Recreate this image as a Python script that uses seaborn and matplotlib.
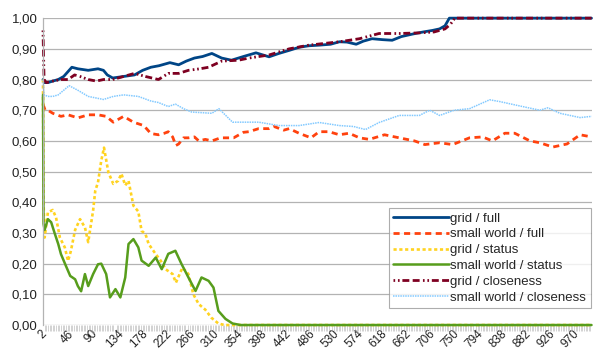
import numpy as np
import pandas as pd
import matplotlib
matplotlib.use("Agg")
import matplotlib.pyplot as plt
import seaborn as sns

# valores (x = iteracion, y = valor)
grid_full_x = [2, 5, 11, 20, 30, 40, 55, 66, 85, 103, 113, 120, 130, 150, 170, 185, 200, 215, 235,
               251, 265, 280, 295, 312, 330, 348, 370, 393, 417, 435, 454, 472, 490, 509, 530, 546,
               560, 577, 590, 606, 625, 643, 660, 680, 700, 717, 730, 740, 748, 1009]
grid_full_y = [0.80, 0.79, 0.79, 0.795, 0.80, 0.81, 0.84, 0.835, 0.83, 0.835, 0.83, 0.815, 0.805,
               0.81, 0.815, 0.83, 0.84, 0.845, 0.855, 0.848, 0.86, 0.87, 0.875, 0.885, 0.87, 0.863,
               0.875, 0.887, 0.874, 0.885, 0.895, 0.905, 0.91, 0.912, 0.915, 0.923, 0.922, 0.915,
               0.925, 0.933, 0.93, 0.928, 0.94, 0.948, 0.955, 0.96, 0.965, 0.975, 1.0, 1.0]

sw_full_x = [2, 6, 11, 20, 35, 48, 66, 85, 103, 118, 131, 150, 168, 187, 200, 214, 225, 232, 240,
             246, 251, 260, 269, 280, 288, 300, 312, 328, 340, 352, 370, 380, 398, 417, 426, 444,
             454, 472, 494, 509, 527, 546, 564, 583, 601, 629, 656, 684, 703, 730, 754, 785, 809,
             827, 850, 868, 896, 914, 938, 964, 988, 1009]
sw_full_y = [0.72, 0.70, 0.70, 0.69, 0.68, 0.685, 0.675, 0.685, 0.685, 0.68, 0.661, 0.68, 0.661,
             0.65, 0.624, 0.62, 0.625, 0.63, 0.613, 0.585, 0.59, 0.61, 0.61, 0.613, 0.60, 0.605,
             0.60, 0.61, 0.61, 0.61, 0.628, 0.63, 0.64, 0.64, 0.647, 0.635, 0.64, 0.625, 0.61,
             0.63, 0.63, 0.62, 0.625, 0.61, 0.605, 0.62, 0.61, 0.60, 0.588, 0.594, 0.588, 0.61,
             0.613, 0.60, 0.625, 0.625, 0.60, 0.594, 0.58, 0.59, 0.62, 0.613]

grid_status_x = [2, 3, 5, 11, 20, 26, 33, 42, 48, 53, 61, 70, 79, 85, 94, 98, 103, 109, 114, 122,
                 131, 140, 146, 153, 159, 168, 177, 183, 190, 196, 209, 218, 227, 240, 246, 258,
                 269, 278, 288, 300, 311, 324, 335, 1009]
grid_status_y = [0.80, 0.40, 0.285, 0.367, 0.375, 0.35, 0.285, 0.253, 0.209, 0.24, 0.31, 0.345,
                 0.318, 0.27, 0.373, 0.438, 0.465, 0.536, 0.578, 0.498, 0.46, 0.47, 0.493, 0.455,
                 0.47, 0.389, 0.37, 0.307, 0.297, 0.264, 0.231, 0.21, 0.182, 0.166, 0.138, 0.187,
                 0.166, 0.10, 0.068, 0.05, 0.024, 0.005, 0.0, 0.0]

sw_status_x = [2, 3, 5, 11, 17, 24, 30, 35, 44, 52, 61, 66, 72, 79, 85, 94, 103, 109, 118, 125,
               135, 144, 153, 159, 168, 177, 183, 196, 209, 220, 232, 245, 256, 269, 282, 293, 306,
               315, 324, 337, 350, 365, 1009]
sw_status_y = [0.75, 0.33, 0.31, 0.345, 0.335, 0.296, 0.264, 0.231, 0.193, 0.16, 0.149, 0.127,
               0.11, 0.166, 0.127, 0.166, 0.198, 0.20, 0.166, 0.09, 0.117, 0.09, 0.155, 0.264,
               0.28, 0.253, 0.21, 0.193, 0.22, 0.182, 0.232, 0.242, 0.20, 0.155, 0.111, 0.155,
               0.144, 0.122, 0.046, 0.02, 0.005, 0.0, 0.0]

grid_clos_x = [2, 4, 8, 20, 35, 48, 60, 70, 85, 100, 113, 130, 150, 170, 190, 214, 232, 251, 269,
               290, 306, 330, 361, 380, 417, 454, 490, 546, 583, 619, 656, 693, 720, 740, 750, 758,
               1009]
grid_clos_y = [0.96, 0.80, 0.79, 0.795, 0.80, 0.80, 0.815, 0.81, 0.80, 0.795, 0.80, 0.80, 0.81,
               0.82, 0.81, 0.80, 0.82, 0.82, 0.83, 0.835, 0.84, 0.86, 0.863, 0.87, 0.88, 0.90,
               0.912, 0.923, 0.933, 0.95, 0.95, 0.952, 0.955, 0.965, 0.98, 1.0, 1.0]

sw_clos_x = [2, 4, 11, 20, 30, 40, 50, 66, 85, 113, 131, 150, 177, 200, 214, 232, 245, 260, 275,
             312, 325, 350, 398, 435, 472, 509, 546, 572, 594, 619, 656, 693, 712, 730, 757, 785,
             822, 841, 877, 914, 929, 951, 988, 1009]
sw_clos_y = [0.80, 0.75, 0.745, 0.745, 0.75, 0.765, 0.78, 0.765, 0.745, 0.735, 0.745, 0.75, 0.745,
             0.73, 0.725, 0.712, 0.72, 0.705, 0.694, 0.69, 0.705, 0.661, 0.661, 0.65, 0.65, 0.66,
             0.65, 0.647, 0.637, 0.66, 0.683, 0.683, 0.70, 0.683, 0.70, 0.705, 0.734, 0.728,
             0.714, 0.70, 0.708, 0.69, 0.676, 0.68]

x_ticks = [2, 46, 90, 134, 178, 222, 266, 310, 354, 398, 442, 486, 530, 574, 618, 662, 706, 750,
           794, 838, 882, 926, 970]
y_ticks = [0.0, 0.1, 0.2, 0.3, 0.4, 0.5, 0.6, 0.7, 0.8, 0.9, 1.0]

sns.set_style("white")
plt.rcParams["font.family"] = ["Liberation Sans", "DejaVu Sans"]

fig = plt.figure(figsize=(5.93, 3.56), dpi=100)
ax = fig.add_axes([0.0725, 0.087, 0.925, 0.862])

ax.yaxis.grid(True, color="#b3b3b3", linewidth=0.9)
ax.set_axisbelow(True)

series = [
    ("grid / full", grid_full_x, grid_full_y, "#004586", 2.0, "-"),
    ("small world / full", sw_full_x, sw_full_y, "#ff420e", 2.0, (0, (2.2, 1.6))),
    ("grid / status", grid_status_x, grid_status_y, "#ffd320", 1.9, (0, (1.2, 1.0))),
    ("small world / status", sw_status_x, sw_status_y, "#579d1c", 1.8, "-"),
    ("grid / closeness", grid_clos_x, grid_clos_y, "#7e0021", 2.0, (0, (0.6, 1.0, 0.6, 1.0, 2.5, 1.2, 2.5, 1.2))),
    ("small world / closeness", sw_clos_x, sw_clos_y, "#83caff", 1.1, (0, (1.0, 0.6))),
]

for nombre, xs, ys, color, lw, estilo in series:
    df = pd.DataFrame({"x": xs, "y": ys})
    sns.lineplot(data=df, x="x", y="y", ax=ax, color=color, linewidth=lw,
                 linestyle=estilo, label=nombre, estimator=None, sort=False,
                 clip_on=False)

ax.set_xlim(2, 1009)
ax.set_ylim(0, 1.0)
ax.set_xlabel("")
ax.set_ylabel("")

ax.set_xticks(x_ticks)
ax.set_xticklabels([str(t) for t in x_ticks], rotation=45, fontsize=8.5,
                   color="#222222")
ax.set_xticks(np.arange(2, 1010, 3), minor=True)
ax.tick_params(axis="x", which="minor", length=4, width=0.4, color="#b0b0b0",
               bottom=True)
ax.tick_params(axis="x", which="major", length=0, pad=2)

ax.set_yticks(y_ticks)
ax.set_yticklabels([f"{v:.2f}".replace(".", ",") for v in y_ticks], fontsize=9.5,
                   color="#222222")
ax.tick_params(axis="y", length=0, pad=4)

for lado in ["top", "right", "bottom"]:
    ax.spines[lado].set_visible(False)
ax.spines["left"].set_color("#b3b3b3")
ax.spines["left"].set_linewidth(0.9)

leg = ax.legend(loc="lower right", bbox_to_anchor=(0.9985, 0.055), fontsize=9.5,
                frameon=True, fancybox=False, edgecolor="#999999",
                handlelength=4.2, handletextpad=0.1, borderpad=0.35,
                labelspacing=0.27, borderaxespad=0)
leg.get_frame().set_linewidth(0.8)

fig.savefig("out.png", dpi=100)
